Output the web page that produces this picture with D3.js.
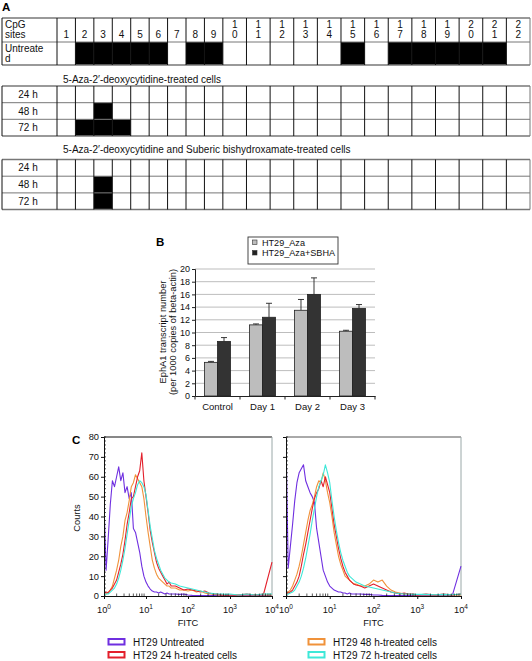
<!DOCTYPE html>
<html><head><meta charset="utf-8">
<script src="https://cdn.jsdelivr.net/npm/d3@7"></script>
<style>
body{margin:0;background:#fff;}
svg{display:block;font-family:"Liberation Sans",Arial,Helvetica,sans-serif;}
</style></head><body>
<svg id="c" width="532" height="661"></svg>
<script>
// ---------- Panel A data ----------
const cpgSites = ["1","2","3","4","5","6","7","8","9","10","11","12","13","14","15","16","17","18","19","20","21","22"];
const untreatedMeth = [0,1,1,1,1,1,0,1,1,0,0,0,0,0,1,0,1,1,1,1,1,0];
const timeLabels = ["24 h","48 h","72 h"];
const aza24 = [0,0,0,0,0,0,0,0,0,0,0,0,0,0,0,0,0,0,0,0,0,0];
const aza48 = [0,0,1,0,0,0,0,0,0,0,0,0,0,0,0,0,0,0,0,0,0,0];
const aza72 = [0,1,1,1,0,0,0,0,0,0,0,0,0,0,0,0,0,0,0,0,0,0];
const sbha24 = [0,0,0,0,0,0,0,0,0,0,0,0,0,0,0,0,0,0,0,0,0,0];
const sbha48 = [0,0,1,0,0,0,0,0,0,0,0,0,0,0,0,0,0,0,0,0,0,0];
const sbha72 = [0,0,1,0,0,0,0,0,0,0,0,0,0,0,0,0,0,0,0,0,0,0];

// ---------- Panel B data ----------
const categories = ["Control","Day 1","Day 2","Day 3"];
const seriesNames = ["HT29_Aza","HT29_Aza+SBHA"];
const azaValues = [5.3, 11.2, 13.5, 10.2];
const azaErrors = [0.15, 0.15, 1.7, 0.15];
const sbhaValues = [8.6, 12.4, 16.0, 13.8];
const sbhaErrors = [0.6, 2.2, 2.6, 0.6];
const bTicks = [0,2,4,6,8,10,12,14,16,18,20];

// ---------- Panel C data ----------
const fitcLog = [0,0.05,0.1,0.15,0.2,0.25,0.3,0.35,0.4,0.45,0.5,0.55,0.6,0.65,0.7,0.75,0.8,0.85,0.9,0.95,1,1.05,1.1,1.15,1.2,1.25,1.3,1.35,1.4,1.45,1.5,1.55,1.6,1.7,1.8,1.9,2,2.1,2.2,2.3,2.4,2.5,2.6,2.7,2.8,2.9,3,3.2,3.4,3.6,3.8,4];
const leftUntreated = [46,13,29,46,58,55,60,65,58,62,52,55,49,52,34,32,27,22,15,10,7,5,3.5,2.5,2,2,1.5,2,1.5,1,1.5,1,1,1,0.8,1,0.5,0.3,0.2,0.2,0.2,0.2,0.2,0.2,0.2,0.2,0.2,0.2,0.2,0.2,0.2,0];
const left24h = [1,2,1.5,3,4,6,8,12,16,21,28,36,42,49,50,55,60,63,72,58,50,42,33,27,22,17,14,12,10,8,6,7,5,5,4,3,3.5,3,2.5,2,2.5,1.5,1,1,0.5,0.5,0.5,0.5,1,0.5,1,17];
const left48h = [1,1,2,3,5,9,13,18,25,30,38,42,48,55,57,61,59,57,55,49,40,32,25,18,14,11,9,8,7,6,5,5,4,4,3,3,2.5,3,2,2.5,1.5,1,1,0.5,0.5,0.5,0.5,0.5,0.5,0.5,0.5,0.5];
const left72h = [0.5,1,1,2,3,4,6,9,13,18,24,31,38,45,49,52,56,58,57,55,51,43,35,29,23,19,16,13,11,9,8,7,6.5,6,5,4.5,4,3.5,3,2.5,2,1.5,1.2,1,1,0.8,1,0.5,1,0.5,1,1];
const rightUntreated = [79,14,25,36,48,57,62,64,66,58,55,52,50,47,34,27,20,13,10,7,5,4,3,2.5,2,2,1.5,1.5,1,1.5,1,1,1,1,0.8,0.8,0.5,0.5,0.3,0.2,0.2,0.2,0.2,0.2,0.2,0.2,0.2,0.2,0.2,0.2,0.2,15];
const right24h = [1,1.5,2,3,5,7,10,15,21,26,32,38,44,49,52,54,58,55,60,56,52,44,36,30,24,19,15,12,10,8,7,6,5.5,5,4,5,6,5,4,3,2,1.5,1,1.5,1,1,0.5,1,0.5,1,0.5,1];
const right48h = [1,2,3,5,8,11,15,20,26,32,38,43,46,50,55,58,57,62,58,52,47,40,32,26,20,16,13,10,9,8,7,6,6,5,5,6,8,7,8,5,3,2,1.5,1,1,0.5,0.5,0.5,0.5,0.5,0.5,0.5];
const right72h = [0.5,1,1.5,2,3,5,7,10,14,19,25,31,38,44,50,55,58,61,66,62,57,48,40,33,27,22,18,15,12,10,9,8,7,6,5,4.5,4,3.5,3,2.5,2,1.5,1.2,1,1,0.8,0.8,0.8,0.6,0.8,0.6,1];
const cYTicks = [0,10,20,30,40,50,60,70,80];
const cXDecades = [0,1,2,3,4];
const legendC = ["HT29 Untreated","HT29 24 h-treated cells","HT29 48 h-treated cells","HT29 72 h-treated cells"];
const colorsC = ["#6f2fe0","#e3202c","#f0923a","#3ee8d8"];

const svg = d3.select("#c");
const FONT = "'Liberation Sans',Arial,sans-serif";

// ================= PANEL A =================
svg.append("text").attr("x",2).attr("y",11).attr("font-size",11.5).attr("font-weight","bold").text("A");

const colWeights = cpgSites.map(s => s.length === 1 ? 0.78 : 1.0);
const colCum = [0]; colWeights.forEach(w => colCum.push(colCum[colCum.length-1]+w));
const xCol = d3.scaleLinear().domain([0, colCum[colCum.length-1]]).range([57, 530]);
const tableLeft = 2, labelRight = 57, tableRight = 530;

function drawTable(rows) {
  const g = svg.append("g");
  const yTop = rows[0].y0, yBot = rows[rows.length-1].y1;
  rows.forEach(r => {
    if (r.values) {
      r.values.forEach((v,i) => {
        if (v) g.append("rect").attr("x", xCol(colCum[i])).attr("y", r.y0)
          .attr("width", xCol(colCum[i+1]) - xCol(colCum[i])).attr("height", r.y1 - r.y0).attr("fill","#000");
      });
    }
    const nl = r.label.length;
    r.label.forEach((t,k) => {
      const yb = nl === 1 ? (r.y0 + r.y1)/2 + 3.6 : r.y0 + 9.5 + k*10;
      g.append("text").attr("x", r.labelAnchor === "middle" ? 28 : 5).attr("y", yb)
        .attr("text-anchor", r.labelAnchor || "start").attr("font-size",10).attr("fill","#111").text(t);
    });
    if (r.header) {
      cpgSites.forEach((s,i) => {
        const cx = (xCol(colCum[i]) + xCol(colCum[i+1]))/2;
        const chars = s.split("");
        chars.forEach((c,k) => {
          const line = chars.length === 1 ? 1 : k;
          g.append("text").attr("x", cx).attr("y", r.y0 + 9.8 + line*10.5)
            .attr("text-anchor","middle").attr("font-size",10).attr("fill","#111").text(c);
        });
      });
    }
  });
  const hs = [yTop].concat(rows.map(r => r.y1));
  hs.forEach((y,i) => g.append("line").attr("x1",tableLeft).attr("x2",tableRight).attr("y1",y).attr("y2",y)
    .attr("stroke", "#777").attr("stroke-width", (i===0||i===hs.length-1)?1.3:1));
  const vs = [tableLeft, labelRight].concat(colCum.slice(1).map(c => xCol(c)));
  vs.forEach((x,i) => g.append("line").attr("x1",x).attr("x2",x).attr("y1",yTop).attr("y2",yBot)
    .attr("stroke", i===vs.length-1 ? "#777" : "#111").attr("stroke-width",1));
}

drawTable([
  {y0:18, y1:42, label:["CpG","sites"], header:true},
  {y0:42, y1:65, label:["Untreate","d"], values: untreatedMeth}
]);

svg.append("text").attr("x",63).attr("y",82.5).attr("font-size",10).attr("fill","#111")
  .text("5-Aza-2\u2032-deoxycytidine-treated cells");
drawTable([
  {y0:86, y1:102.7, label:[timeLabels[0]], labelAnchor:"middle", values: aza24},
  {y0:102.7, y1:119.3, label:[timeLabels[1]], labelAnchor:"middle", values: aza48},
  {y0:119.3, y1:136, label:[timeLabels[2]], labelAnchor:"middle", values: aza72}
]);

svg.append("text").attr("x",63).attr("y",152.5).attr("font-size",10).attr("fill","#111")
  .text("5-Aza-2\u2032-deoxycytidine and Suberic bishydroxamate-treated cells");
drawTable([
  {y0:159.5, y1:176.2, label:[timeLabels[0]], labelAnchor:"middle", values: sbha24},
  {y0:176.2, y1:192.9, label:[timeLabels[1]], labelAnchor:"middle", values: sbha48},
  {y0:192.9, y1:209.5, label:[timeLabels[2]], labelAnchor:"middle", values: sbha72}
]);

// ================= PANEL B =================
svg.append("text").attr("x",156).attr("y",246).attr("font-size",11.5).attr("font-weight","bold").text("B");

const bx = d3.scaleBand().domain(categories).range([195,375]).paddingInner(0).paddingOuter(0);
const bx1 = d3.scaleBand().domain(seriesNames).range([0,bx.bandwidth()]).paddingInner(0).paddingOuter(0.73);
const by = d3.scaleLinear().domain([0,20]).range([396,269]);
const gB = svg.append("g");
gB.selectAll("line.grid").data(bTicks.slice(1)).join("line")
  .attr("x1",195).attr("x2",375).attr("y1",d=>by(d)).attr("y2",d=>by(d))
  .attr("stroke","#bdbdbd").attr("stroke-width",1);
const bData = categories.map((c,i) => [
  {cat:c, s:seriesNames[0], v:azaValues[i], e:azaErrors[i], fill:"#bdbdbd"},
  {cat:c, s:seriesNames[1], v:sbhaValues[i], e:sbhaErrors[i], fill:"#333"}
]).flat();
bData.forEach(d => {
  const cx = bx(d.cat) + bx1(d.s) + bx1.bandwidth()/2;
  gB.append("line").attr("x1",cx).attr("x2",cx).attr("y1",by(d.v)).attr("y2",by(d.v+d.e)).attr("stroke","#222").attr("stroke-width",0.9);
  gB.append("line").attr("x1",cx-3).attr("x2",cx+3).attr("y1",by(d.v+d.e)).attr("y2",by(d.v+d.e)).attr("stroke","#222").attr("stroke-width",0.9);
});
gB.selectAll("rect.bar").data(bData).join("rect")
  .attr("x", d => bx(d.cat) + bx1(d.s)).attr("width", bx1.bandwidth())
  .attr("y", d => by(d.v)).attr("height", d => by(0) - by(d.v))
  .attr("fill", d => d.fill).attr("stroke","#222").attr("stroke-width",0.8);
const yAxisB = d3.axisLeft(by).tickValues(bTicks).tickSize(3).tickPadding(2);
const gyB = gB.append("g").attr("transform","translate(195,0)").call(yAxisB);
gyB.selectAll("text").attr("font-size",9).attr("font-family",FONT).attr("fill","#111");
gyB.selectAll("line,path").attr("stroke","#222");
const xAxisB = d3.axisBottom(bx).tickSize(0).tickPadding(7);
const gxB = gB.append("g").attr("transform","translate(0,396)").call(xAxisB);
gxB.select("path").attr("stroke","#222");
gxB.selectAll("text").attr("font-size",9.5).attr("font-family",FONT).attr("fill","#111");
gB.selectAll("line.bt").data(d3.range(categories.length+1)).join("line")
  .attr("x1", i => 195 + i*bx.step()).attr("x2", i => 195 + i*bx.step())
  .attr("y1",396).attr("y2",399.5).attr("stroke","#222");
const yt = gB.append("text").attr("transform","translate(166,332) rotate(-90)").attr("text-anchor","middle")
  .attr("font-size",9.3).attr("fill","#111");
yt.append("tspan").attr("x",0).attr("dy",0).text("EphA1 transcript number");
yt.append("tspan").attr("x",0).attr("dy",10).text("(per 1000 copies of beta-actin)");
const lgB = gB.append("g");
lgB.append("rect").attr("x",248).attr("y",237).attr("width",90).attr("height",27).attr("fill","#fff").attr("stroke","#333").attr("stroke-width",0.9);
seriesNames.forEach((s,i) => {
  lgB.append("rect").attr("x",252.5).attr("y",242+i*10.5 - 2).attr("width",4.5).attr("height",4.5)
    .attr("fill", i===0 ? "#bdbdbd" : "#222").attr("stroke","#333").attr("stroke-width",0.6);
  lgB.append("text").attr("x",262).attr("y",245.5+i*10.5).attr("font-size",9.1).attr("fill","#111").text(s);
});

// ================= PANEL C =================
svg.append("text").attr("x",72).attr("y",443.5).attr("font-size",11.5).attr("font-weight","bold").text("C");
const cy = d3.scaleLinear().domain([0,80]).range([596,437]);
function histPanel(x0, x1, series, showY, clipId) {
  const cx = d3.scaleLog().domain([1,1e4]).range([x0,x1]);
  const g = svg.append("g");
  g.append("clipPath").attr("id",clipId).append("rect").attr("x",x0).attr("y",436).attr("width",x1-x0+1).attr("height",161);
  g.append("line").attr("x1",x0).attr("x2",x1).attr("y1",437).attr("y2",437).attr("stroke",showY?"#111":"#555").attr("stroke-width",1);
  g.append("line").attr("x1",x1).attr("x2",x1).attr("y1",437).attr("y2",596).attr("stroke","#9aa8a8").attr("stroke-width",1);
  const line = d3.line().x((d,i)=>cx(Math.pow(10, fitcLog[i]))).y(d=>cy(d));
  const gl = g.append("g").attr("clip-path",`url(#${clipId})`);
  [0,2,1,3].forEach(k => {
    gl.append("path").datum(series[k]).attr("d",line).attr("fill","none")
      .attr("stroke",colorsC[k]).attr("stroke-width",1.1).attr("stroke-linejoin","round");
  });
  const yAx = d3.axisLeft(cy).tickValues(cYTicks).tickSize(3).tickPadding(2).tickFormat(showY ? d3.format("d") : "");
  const gy = g.append("g").attr("transform",`translate(${x0},0)`).call(yAx);
  gy.selectAll("text").attr("font-size",9.3).attr("font-family",FONT).attr("fill","#111");
  gy.selectAll("line,path").attr("stroke","#111");
  g.selectAll("line.ym").data(d3.range(0,81,2)).join("line")
    .attr("x1",x0).attr("x2",x0+2).attr("y1",d=>cy(d)).attr("y2",d=>cy(d)).attr("stroke","#111").attr("stroke-width",0.7);
  const xAx = d3.axisBottom(cx).tickValues(cXDecades.map(d=>Math.pow(10,d))).tickSize(3).tickFormat("");
  const gx = g.append("g").attr("transform","translate(0,596)").call(xAx);
  gx.selectAll("line,path").attr("stroke","#111");
  const minors = [];
  cXDecades.slice(0,4).forEach(d => { for (let m=2;m<10;m++) minors.push(m*Math.pow(10,d)); });
  g.selectAll("line.xm").data(minors).join("line")
    .attr("x1",d=>cx(d)).attr("x2",d=>cx(d)).attr("y1",596).attr("y2",593.5).attr("stroke","#111").attr("stroke-width",0.7);
  cXDecades.forEach(d => {
    const t = g.append("text").attr("x",cx(Math.pow(10,d))).attr("y",613).attr("text-anchor","middle").attr("font-size",9.3).attr("fill","#111");
    t.append("tspan").text("10");
    t.append("tspan").attr("dy",-4).attr("font-size",6.5).text(String(d));
  });
  g.append("text").attr("x",(x0+x1)/2).attr("y",626).attr("text-anchor","middle").attr("font-size",9.3).attr("fill","#111").text("FITC");
  if (showY) {
    g.append("text").attr("transform",`translate(80,518) rotate(-90)`).attr("text-anchor","middle").attr("font-size",9.3).attr("fill","#111").text("Courts");
  }
}
histPanel(104, 272, [leftUntreated, left24h, left48h, left72h], true, "clipL");
histPanel(286, 461, [rightUntreated, right24h, right48h, right72h], false, "clipR");

const lgC = svg.append("g");
legendC.forEach((t,i) => {
  const col = i < 2 ? 0 : 1, row = i % 2;
  const lx = col === 0 ? 108.5 : 308.5, ly = 639 + row*13;
  lgC.append("rect").attr("x",lx).attr("y",ly).attr("width",16).attr("height",5.5)
    .attr("fill","#fff").attr("stroke",colorsC[i]).attr("stroke-width",2);
  lgC.append("text").attr("x",lx+24.5).attr("y",ly+6.5).attr("font-size",10).attr("fill","#111").text(t);
});
</script></body></html>
